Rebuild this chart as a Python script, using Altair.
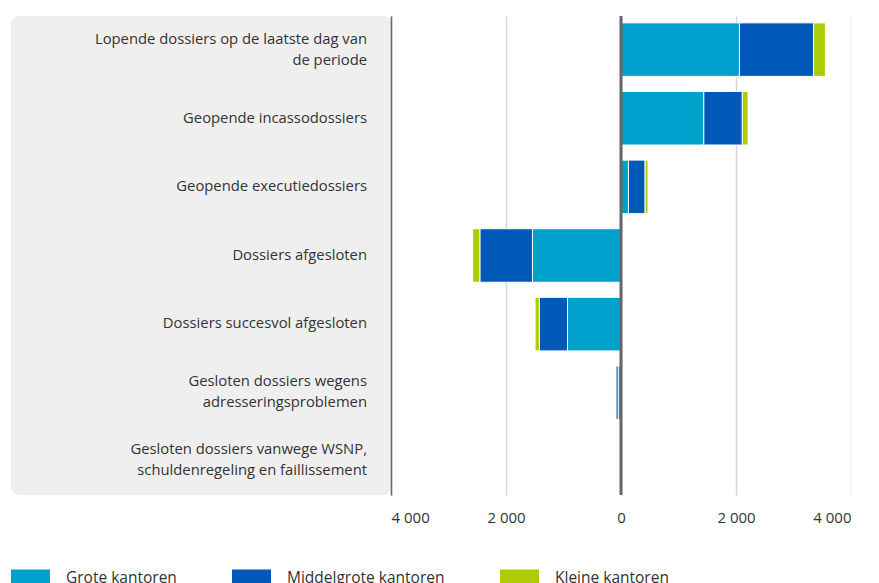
import altair as alt
import pandas as pd

categories = [
    "Lopende dossiers op de laatste dag van de periode",
    "Geopende incassodossiers",
    "Geopende executiedossiers",
    "Dossiers afgesloten",
    "Dossiers succesvol afgesloten",
    "Gesloten dossiers wegens adresseringsproblemen",
    "Gesloten dossiers vanwege WSNP, schuldenregeling en faillissement",
]
line1 = [
    "Lopende dossiers op de laatste dag van",
    "Geopende incassodossiers",
    "Geopende executiedossiers",
    "Dossiers afgesloten",
    "Dossiers succesvol afgesloten",
    "Gesloten dossiers wegens",
    "Gesloten dossiers vanwege WSNP,",
]
line2 = [
    "de periode",
    "",
    "",
    "",
    "",
    "adresseringsproblemen",
    "schuldenregeling en faillissement",
]
series = ["Grote kantoren", "Middelgrote kantoren", "Kleine kantoren"]
grote = [2060, 1440, 130, -1540, -930, -50, 0]
middelgrote = [1290, 670, 290, -915, -490, -40, 0]
kleine = [205, 100, 50, -125, -75, -10, 0]
colors = ["#00A1CD", "#0058B8", "#AFCB05"]
ticks = [-4000, -2000, 0, 2000, 4000]

rows = []
for vals, s, o in zip([grote, middelgrote, kleine], series, range(3)):
    for c, v in zip(categories, vals):
        rows.append({"categorie": c, "reeks": s, "waarde": v, "volgorde": o})
df = pd.DataFrame(rows)
lab_df = pd.DataFrame({"categorie": categories, "l1": line1, "l2": line2})
lab_df["twee"] = lab_df["l2"] != ""

FONT = "Open Sans"
FS = 14.8
H = 479
yscale = alt.Scale(domain=categories, paddingInner=0.22, paddingOuter=0.1)
ybase = alt.Y("categorie:N", sort=categories, scale=yscale, axis=None)

base = alt.Chart(lab_df)
txt = dict(align="right", baseline="middle", font=FONT, fontSize=FS, color="#333333")
single = base.transform_filter("!datum.twee").mark_text(**txt).encode(
    y=ybase, x=alt.value(356), text="l1:N")
first = base.transform_filter("datum.twee").mark_text(dy=-10.5, **txt).encode(
    y=ybase, x=alt.value(356), text="l1:N")
second = base.transform_filter("datum.twee").mark_text(dy=10.5, **txt).encode(
    y=ybase, x=alt.value(356), text="l2:N")
left = alt.layer(
    single, first, second,
    view=alt.ViewBackground(fill="#EFEFEF", stroke=None, cornerRadius=8),
).properties(width=380, height=H)

bars = alt.Chart(df).mark_bar(stroke="white", strokeWidth=1).encode(
    y=alt.Y("categorie:N", sort=categories, scale=yscale,
            axis=alt.Axis(labels=False, ticks=False, title=None, domain=True,
                          domainColor="#666666", domainWidth=1.5)),
    x=alt.X("waarde:Q", stack="zero",
            scale=alt.Scale(domain=[-4000, 4000], nice=False),
            axis=alt.Axis(values=ticks, title=None, grid=True, gridColor="#D6D6D6",
                          gridWidth=1.5, domain=False, ticks=False,
                          labelExpr="replace(format(abs(datum.value), ','), ',', ' ')",
                          labelFont=FONT, labelFontSize=15, labelColor="#333333",
                          labelPadding=15)),
    color=alt.Color("reeks:N", sort=series,
                    scale=alt.Scale(domain=series, range=colors),
                    legend=alt.Legend(title=None, orient="none", legendX=0, legendY=542,
                                      direction="horizontal", columns=3,
                                      symbolType="M-1,-0.436L1,-0.436L1,0.436L-1,0.436Z",
                                      symbolSize=1521, symbolStrokeWidth=0, symbolOpacity=1,
                                      labelFont=FONT, labelFontSize=15.5, labelColor="#333333",
                                      columnPadding=55, labelOffset=16)),
    order=alt.Order("volgorde:Q"),
)
zero = alt.Chart(pd.DataFrame({"x": [0]})).mark_rule(color="#666666", strokeWidth=3).encode(
    x=alt.X("x:Q")
)
right = alt.layer(bars, zero).properties(width=460, height=H)

chart = alt.hconcat(left, right, spacing=0).properties(
    padding={"left": 3, "top": 6, "right": 0, "bottom": 0}
).configure_view(stroke=None)

chart.save("out.html", embed_options={"renderer": "svg", "actions": False})
